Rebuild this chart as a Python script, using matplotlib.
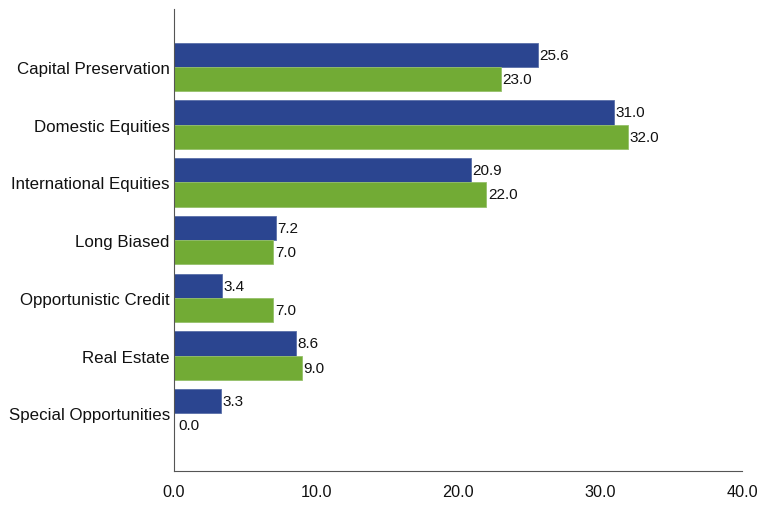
import matplotlib
matplotlib.use("Agg")
import matplotlib.pyplot as plt
import numpy as np

plt.rcParams['font.family'] = ['Liberation Sans', 'DejaVu Sans']

categories = [
    "Capital Preservation",
    "Domestic Equities",
    "International Equities",
    "Long Biased",
    "Opportunistic Credit",
    "Real Estate",
    "Special Opportunities",
]
series_a = [25.6, 31.0, 20.9, 7.2, 3.4, 8.6, 3.3]
series_b = [23.0, 32.0, 22.0, 7.0, 7.0, 9.0, 0.0]
x_ticks = [0, 10, 20, 30, 40]

blue = "#2B4590"
green = "#72AB35"

fig = plt.figure(figsize=(7.59, 5.06), dpi=100)
ax = fig.add_axes([0.2293, 0.0672, 0.7483, 0.9130])

y = np.arange(len(categories))
h = 0.42
ax.barh(y - h / 2, series_a, height=h, color=blue, edgecolor="#5a6fa8", linewidth=0.6)
ax.barh(y + h / 2, series_b, height=h, color=green, edgecolor="#95c06a", linewidth=0.6)

# value labels just past the bar ends
for yi, v in zip(y, series_a):
    ax.annotate(f"{v:.1f}", (v, yi - h / 2), xytext=(1, 0), textcoords="offset points",
                va="center", ha="left", fontsize=11, color="#111111")
for yi, v in zip(y, series_b):
    off = 3 if v == 0 else 1
    ax.annotate(f"{v:.1f}", (v, yi + h / 2), xytext=(off, 0), textcoords="offset points",
                va="center", ha="left", fontsize=11, color="#111111")

ax.set_xlim(0, 40)
ax.set_ylim(7, -1)
ax.set_yticks(y)
ax.set_yticklabels(categories, fontsize=12.2)
ax.set_xticks(x_ticks)
ax.set_xticklabels([f"{t:.1f}" for t in x_ticks], fontsize=11.7)
ax.tick_params(length=0, colors="#111111")
ax.tick_params(axis="x", pad=9.5)
ax.tick_params(axis="y", pad=3)

for s in ["top", "right"]:
    ax.spines[s].set_visible(False)
for s in ["left", "bottom"]:
    ax.spines[s].set_color("#555555")
    ax.spines[s].set_linewidth(0.8)

fig.savefig("out.png", dpi=100)
